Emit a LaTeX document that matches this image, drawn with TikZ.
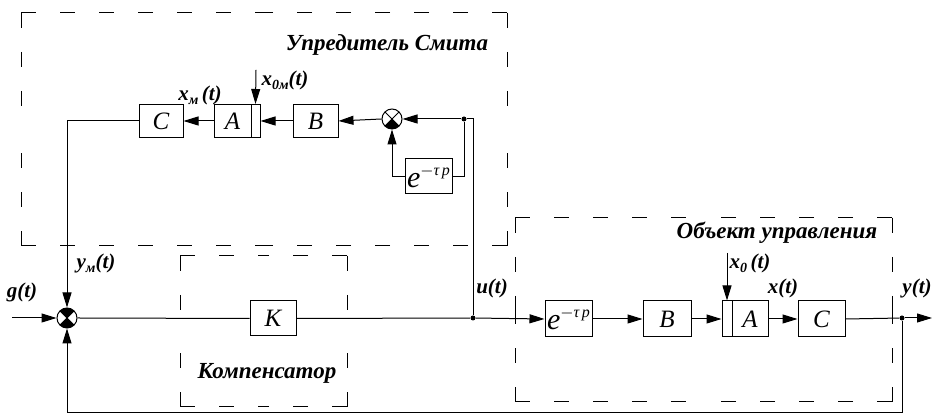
\documentclass[tikz,border=0pt]{standalone}
\usepackage{fontspec}
\setmainfont{Liberation Serif}
\usetikzlibrary{positioning,arrows.meta}
\tikzset{
  blk/.style={draw, line width=0.5pt, inner sep=0pt,
    font=\fontsize{12.5}{14}\selectfont\itshape,
    minimum width=22.5pt, minimum height=16.5pt},
  blkl/.style={blk, minimum height=18pt},
  sig/.style={-{Triangle[length=7.5pt,width=4.5pt]}, line width=0.5pt},
  wire/.style={line width=0.5pt},
  frame/.style={line width=0.5pt, dash pattern=on 7.5pt off 12pt},
  lbl/.style={font=\fontsize{10.5}{12}\selectfont\bfseries\itshape, inner sep=1pt},
  ttl/.style={font=\fontsize{11.5}{13}\selectfont\bfseries\itshape, inner sep=1pt},
  dot/.style={circle, fill, inner sep=0pt, minimum size=2.5pt},
  sumbot/.style={circle, draw, fill=white, line width=0.5pt, inner sep=0pt,
    minimum size=10pt,
    path picture={
      \fill[black] (path picture bounding box.center) -- (path picture bounding box.south west)
        -- (path picture bounding box.south east) -- cycle;
      \draw (path picture bounding box.north west) -- (path picture bounding box.south east)
        (path picture bounding box.north east) -- (path picture bounding box.south west);}},
  sumtb/.style={circle, draw, fill=white, line width=0.5pt, inner sep=0pt,
    minimum size=10pt,
    path picture={
      \fill[black] (path picture bounding box.center) -- (path picture bounding box.south west)
        -- (path picture bounding box.south east) -- cycle;
      \fill[black] (path picture bounding box.center) -- (path picture bounding box.north west)
        -- (path picture bounding box.north east) -- cycle;
      \draw (path picture bounding box.north west) -- (path picture bounding box.south east)
        (path picture bounding box.north east) -- (path picture bounding box.south west);}},
}
% dashed frame, every side drawn from both corners towards its middle
\newcommand{\dframe}[4]{%
  \draw[frame] (#1,#2) -- ({(#1+#3)/2},#2) (#3,#2) -- ({(#1+#3)/2},#2)
    (#1,#4) -- ({(#1+#3)/2},#4) (#3,#4) -- ({(#1+#3)/2},#4)
    (#1,#2) -- (#1,{(#2+#4)/2}) (#1,#4) -- (#1,{(#2+#4)/2})
    (#3,#2) -- (#3,{(#2+#4)/2}) (#3,#4) -- (#3,{(#2+#4)/2});}
\newcommand{\dly}{{\fontsize{15}{16}\selectfont\itshape e}\raisebox{6pt}{\footnotesize $-$τ\,\itshape p}}

\begin{document}
\begin{tikzpicture}[x=0.5pt, y=-0.5pt]
\useasboundingbox (0,0) rectangle (932,415);

% dashed frames
\dframe{21}{13}{507}{246}
\dframe{180}{256}{347}{407}
\dframe{515}{218}{892}{402}

\node[ttl] (tsmith) at (387,45) {Упредитель Смита};
\node[ttl] (tkomp) at (267,373) {Компенсатор};
\node[ttl] (tobj) at (777,233) {Объект управления};

% Smith predictor (model)
\node[sumbot] (ssum) at (392,119) {};
\node[blk] (sB) at (315.5,121) {B};
\node[blk, minimum width=4.5pt] (sAin) at (255.5,121) {};
\node[blk, minimum width=18.5pt] (sA) at (232.5,121) {A};
\node[blk, minimum width=22pt] (sC) at (161,121) {C};
\node[blk, minimum width=23.5pt, minimum height=17.5pt] (sdel) at (428.5,176.5) {\dly};
\node[dot] (tdot) at (464,119) {};
\coordinate (x0mtop) at (256,70);

% main loop
\node[sumtb] (msum) at (67,318) {};
\node[blkl, minimum width=23pt, minimum height=17.5pt] (K) at (273,318.5) {K};
\node[dot] (udot) at (473,318) {};
\node[blkl, minimum width=23.5pt] (odel) at (568.5,319) {\dly};
\node[blkl, minimum width=24pt] (oB) at (667,319) {B};
\node[blkl, minimum width=5pt] (oAin) at (727,319) {};
\node[blkl, minimum width=18pt] (oA) at (750,319) {A};
\node[blkl, minimum width=23.5pt] (oC) at (821.5,319) {C};
\node[dot] (ydot) at (902,318) {};
\coordinate (gin) at (12,318);
\coordinate (yout) at (932,318);
\coordinate (fbk) at (902,413);
\coordinate (x0top) at (727,253);

% signal labels
\node[lbl] (lxm) at (200,95) {x\raisebox{-2pt}{\scriptsize м}\,(t)};
\node[lbl] (lx0m) at (285,80) {x\raisebox{-2pt}{\scriptsize 0м}(t)};
\node[lbl] (lym) at (96,263) {y\raisebox{-2pt}{\scriptsize м}(t)};
\node[lbl] (lg) at (22,292) {g(t)};
\node[lbl] (lu) at (492,288) {u(t)};
\node[lbl] (lx0) at (750,263) {x\raisebox{-2pt}{\scriptsize 0}\,(t)};
\node[lbl] (lx) at (783,288) {x(t)};
\node[lbl] (ly) at (917,288) {y(t)};

% connectors, predictor
\draw[sig] (tdot) -- (ssum.east);
\draw[sig] (ssum.west) -- (sB.east);
\draw[sig] (sB.west) -- (sAin.east);
\draw[sig] (sA.west) -- (sC.east);
\draw[sig] (x0mtop) -- (sAin.north);
\draw[wire] (tdot) |- (sdel.east);
\draw[sig] (sdel.west) -| (ssum.south);
\draw[wire] (tdot) -| (udot);
\draw[sig] (sC.west) -| (msum.north);

% connectors, main loop
\draw[sig] (gin) -- (msum.west);
\draw[wire] (msum.east) -- (K.west);
\draw[wire] (K.east) -- (udot);
\draw[sig] (udot) -- (odel.west);
\draw[sig] (odel.east) -- (oB.west);
\draw[sig] (oB.east) -- (oAin.west);
\draw[sig] (x0top) -- (oAin.north);
\draw[sig] (oA.east) -- (oC.west);
\draw[wire] (oC.east) -- (ydot);
\draw[sig] (ydot) -- (yout);
\draw[sig] (ydot) -- (fbk) -| (msum.south);

\end{tikzpicture}
\end{document}
